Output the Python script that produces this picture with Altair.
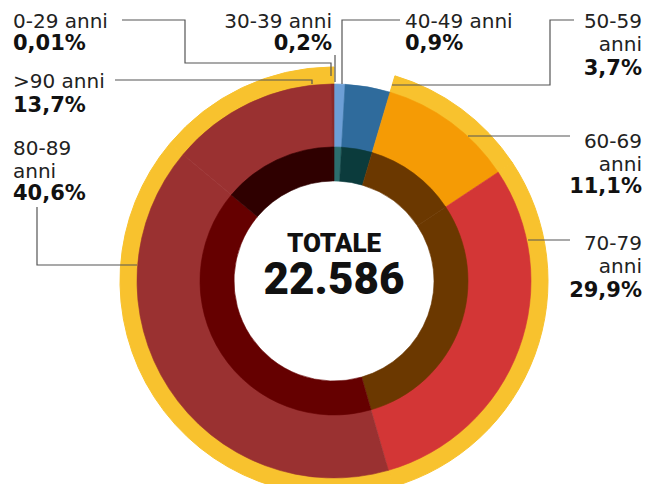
import altair as alt
import pandas as pd

# ---- data ----
categories = ["40-49", "50-59", "60-69", "70-79", "80-89", ">90", "0-29", "30-39"]
shares = [0.9, 3.7, 11.1, 29.9, 40.6, 13.7, 0.01, 0.2]
outer_colors = ["#6d9fd6", "#2f6b9c", "#f59b05", "#d33636", "#9a3131", "#9a3131", "#9a3131", "#8a2a2a"]
inner_colors = ["#2c6d6d", "#0b3b3c", "#6b3800", "#6b3800", "#650000", "#2f0000", "#2f0000", "#2f0000"]
ring_colors = ["rgba(0,0,0,0)", "rgba(0,0,0,0)", "#f8c22e", "#f8c22e", "#f8c22e", "#f8c22e", "#f8c22e", "#f8c22e"]

label_names = ["0-29 anni", "30-39 anni", "40-49 anni", "50-59\nanni", "60-69\nanni", "70-79\nanni", "80-89\nanni", ">90 anni"]
label_pcts = ["0,01%", "0,2%", "0,9%", "3,7%", "11,1%", "29,9%", "40,6%", "13,7%"]
total_title = "TOTALE"
total_value = "22.586"

# ---- label layout (page pixel coordinates) ----
label_x = [13, 332, 405, 642, 642, 642, 13, 13]
label_align = ["left", "right", "left", "right", "right", "right", "left", "left"]
name_y = [28, 28, 28, 28, 148, 250, 155, 88]
pct_y = [50, 50, 50, 75, 193, 297, 200, 112]

leader_paths = {
    "0-29 anni": [(122, 20), (185, 20), (185, 63), (331, 63), (331, 76)],
    "30-39 anni": [(335, 55), (335, 82)],
    "40-49 anni": [(400, 20), (342, 20), (342, 84)],
    "50-59": [(574, 20), (550, 20), (550, 85), (392, 85)],
    "60-69": [(570, 136), (468, 136)],
    "70-79": [(570, 240), (528, 240)],
    "80-89": [(37, 207), (37, 265), (137, 265)],
    ">90": [(115, 80), (312, 80), (312, 84)],
}

W, H = 635, 476
CX, CY = 334 - 8, 281 - 8

df = pd.DataFrame({
    "cat": categories,
    "share": shares,
    "idx": list(range(len(categories))),
    "outer": outer_colors,
    "inner": inner_colors,
    "ring": ring_colors,
})

labels = pd.DataFrame({
    "name": label_names,
    "pct": label_pcts,
    "x": label_x,
    "align": label_align,
    "ny": name_y,
    "py": pct_y,
})

rows = []
for key, pts in leader_paths.items():
    for i, (px, py) in enumerate(pts):
        rows.append({"lab": key, "seq": i, "x": px, "y": py})
lines = pd.DataFrame(rows)

xs = alt.Scale(domain=[8, 8 + W])
ys = alt.Scale(domain=[8, 8 + H], reverse=True)

theta = alt.Theta("share:Q", stack=True)
order = alt.Order("idx:Q")

ring = alt.Chart(df).mark_arc(radius=214, radius2=190).encode(
    theta=theta, order=order, color=alt.Color("ring:N", scale=None),
    stroke=alt.Stroke("ring:N", scale=None),
    x=alt.value(CX), y=alt.value(CY))
outer = alt.Chart(df).mark_arc(radius=197, radius2=133, strokeWidth=0.6).encode(
    theta=theta, order=order, color=alt.Color("outer:N", scale=None),
    stroke=alt.Stroke("outer:N", scale=None),
    x=alt.value(CX), y=alt.value(CY))
inner = alt.Chart(df).mark_arc(radius=134, radius2=100, strokeWidth=0.6).encode(
    theta=theta, order=order, color=alt.Color("inner:N", scale=None),
    stroke=alt.Stroke("inner:N", scale=None),
    x=alt.value(CX), y=alt.value(CY))

leaders = alt.Chart(lines).mark_line(color="#555555", strokeWidth=1.2).encode(
    x=alt.X("x:Q", scale=xs, axis=None),
    y=alt.Y("y:Q", scale=ys, axis=None),
    detail="lab:N", order="seq:Q")

text_layers = []
for al in ["left", "right"]:
    sub = alt.Chart(labels).transform_filter(alt.datum.align == al)
    text_layers.append(sub.mark_text(
        align=al, baseline="alphabetic", font="DejaVu Sans", fontSize=20,
        color="#222222", lineBreak="\n", lineHeight=23).encode(
        x=alt.X("x:Q", scale=xs, axis=None),
        y=alt.Y("ny:Q", scale=ys, axis=None),
        text="name:N"))
    text_layers.append(sub.mark_text(
        align=al, baseline="alphabetic", font="DejaVu Sans", fontSize=21,
        fontWeight="bold", color="#111111").encode(
        x=alt.X("x:Q", scale=xs, axis=None),
        y=alt.Y("py:Q", scale=ys, axis=None),
        text="pct:N"))

center = pd.DataFrame({"t": [total_title, total_value], "size": [26, 44], "cy": [252, 294]})
center_text = alt.Chart(center).mark_text(
    align="center", baseline="alphabetic", font="Roboto", fontWeight=900, color="#111111").encode(
    x=alt.value(CX),
    y=alt.Y("cy:Q", scale=ys, axis=None),
    text="t:N",
    size=alt.Size("size:Q", scale=None))

chart = alt.layer(ring, outer, inner, leaders, *text_layers, center_text).properties(
    width=W, height=H, padding=0, autosize=alt.AutoSizeParams(type="none")
).configure_view(stroke=None)

chart.save("out.html", embed_options={"renderer": "svg", "actions": False})
